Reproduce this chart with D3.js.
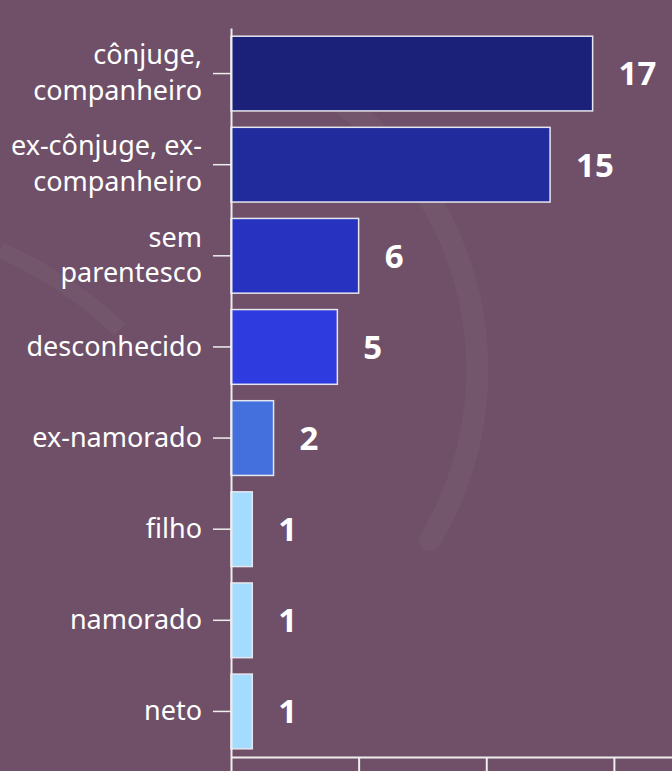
<!DOCTYPE html>
<html>
<head>
<meta charset="utf-8">
<script src="https://cdn.jsdelivr.net/npm/d3@7"></script>
<style>
  html, body { margin: 0; padding: 0; background: #6f5068; }
  svg { display: block; }
</style>
</head>
<body>
<div id="chart"></div>
<script>
// Data
var categories = ["cônjuge, companheiro", "ex-cônjuge, ex-companheiro", "sem parentesco",
                  "desconhecido", "ex-namorado", "filho", "namorado", "neto"];
var values = [17, 15, 6, 5, 2, 1, 1, 1];
var barColors = ["#1b2178", "#222b9c", "#2733c0", "#2e3bdf", "#4370dd", "#a3dcff", "#a3dcff", "#a3dcff"];
var xTicks = [0, 6, 12, 18];

var w = 672, h = 771;
var marginLeft = 231, marginTop = 28, axisY = 757;

var svg = d3.select("#chart").append("svg")
    .attr("width", w)
    .attr("height", h);

svg.append("rect")
    .attr("width", w).attr("height", h)
    .attr("fill", "#6f5068");

// faint watermark arcs in the background
var wm = svg.append("g").attr("opacity", 0.03);
wm.append("path")
    .attr("d", "M 330 95 A 330 330 0 0 1 430 540")
    .attr("fill", "none")
    .attr("stroke", "#ffffff")
    .attr("stroke-width", 22)
    .attr("stroke-linecap", "round");
wm.append("path")
    .attr("d", "M 0 250 A 420 420 0 0 1 120 330")
    .attr("fill", "none")
    .attr("stroke", "#ffffff")
    .attr("stroke-width", 16);

// scales
var xScale = d3.scaleLinear()
    .domain([0, d3.max(values) / 0.82])
    .range([marginLeft, w]);

var yScale = d3.scaleBand()
    .domain(categories)
    .range([marginTop, axisY])
    .paddingInner(0.18)
    .paddingOuter(0.09);

// bars
svg.selectAll("rect.bar")
    .data(values)
    .enter()
    .append("rect")
    .attr("class", "bar")
    .attr("x", xScale(0))
    .attr("y", function (d, i) { return yScale(categories[i]); })
    .attr("width", function (d) { return xScale(d) - xScale(0); })
    .attr("height", yScale.bandwidth())
    .attr("fill", function (d, i) { return barColors[i]; })
    .attr("stroke", "#e6e6ee")
    .attr("stroke-width", 1.5);

// value labels
svg.selectAll("text.value")
    .data(values)
    .enter()
    .append("text")
    .attr("class", "value")
    .attr("x", function (d) { return xScale(d) + 26; })
    .attr("y", function (d, i) { return yScale(categories[i]) + yScale.bandwidth() / 2; })
    .attr("dy", "0.36em")
    .attr("font-family", "Noto Sans, sans-serif")
    .attr("font-weight", "bold")
    .attr("font-size", 33)
    .attr("fill", "#ffffff")
    .text(function (d) { return d; });

// x axis (its labels sit below the visible area, so they are left empty)
var xAxis = d3.axisBottom(xScale)
    .tickValues(xTicks)
    .tickFormat("")
    .tickSize(18)
    .tickSizeOuter(0);

var gx = svg.append("g")
    .attr("transform", "translate(0," + axisY + ")")
    .call(xAxis);
gx.selectAll("path, line").attr("stroke", "#eeeeee").attr("stroke-width", 2);

// y axis
var yAxis = d3.axisLeft(yScale)
    .tickSize(18)
    .tickSizeOuter(0)
    .tickPadding(11);

var gy = svg.append("g")
    .attr("transform", "translate(" + marginLeft + ",0)")
    .call(yAxis);
gy.select(".domain").attr("stroke", "#eeeeee").attr("stroke-width", 2);
gy.selectAll(".tick line").attr("stroke", "#eeeeee").attr("stroke-width", 1.5);
gy.selectAll(".tick text")
    .attr("fill", "#ffffff")
    .attr("font-family", "Noto Sans, sans-serif")
    .attr("font-size", 27)
    .call(wrap, 195);

// break long labels after spaces or hyphens, lines centred on the tick
function wrap(texts, width) {
    texts.each(function () {
        var text = d3.select(this);
        var words = text.text().match(/[^\s-]+-?|\s+/g).filter(function (s) { return s.trim() !== ""; });
        var x = text.attr("x");
        text.text(null);
        var lines = [];
        var line = "";
        var probe = text.append("tspan");
        words.forEach(function (word) {
            var joiner = (line === "" || line.slice(-1) === "-") ? "" : " ";
            var test = line + joiner + word;
            probe.text(test);
            if (line !== "" && probe.node().getComputedTextLength() > width) {
                lines.push(line);
                line = word;
            } else {
                line = test;
            }
        });
        lines.push(line);
        probe.remove();
        var lh = 1.33;
        lines.forEach(function (l, i) {
            text.append("tspan")
                .attr("x", x)
                .attr("dy", i === 0 ? (0.32 - (lines.length - 1) * lh / 2) + "em" : lh + "em")
                .text(l);
        });
    });
}
</script>
</body>
</html>
